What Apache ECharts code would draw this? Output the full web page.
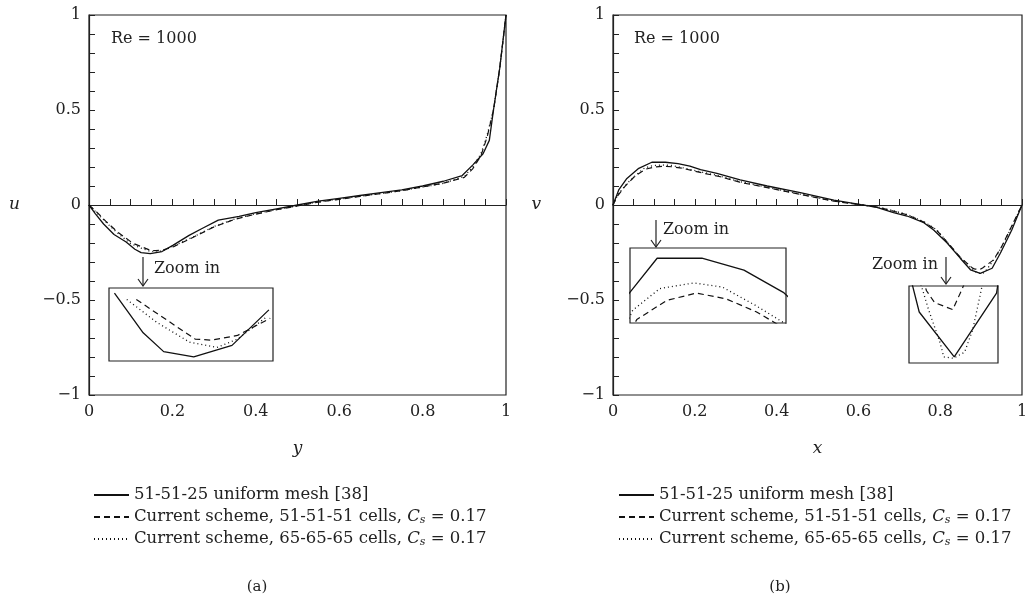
<!DOCTYPE html>
<html><head><meta charset="utf-8">
<script src="https://cdn.jsdelivr.net/npm/echarts@6/dist/echarts.min.js"></script>
<style>html,body{margin:0;padding:0;background:#fff}#c{width:1031px;height:599px}</style>
</head><body><div id="c"></div>
<script>
// ---------- Panel (a): u along y ----------
const aRefY  = [0,0.015,0.035,0.06,0.089,0.11,0.125,0.147,0.175,0.202,0.24,0.27,0.31,0.36,0.4,0.45,0.5,0.55,0.6,0.65,0.7,0.75,0.8,0.85,0.895,0.92,0.945,0.96,0.97,0.985,1];
const aRefU  = [0,-0.045,-0.1,-0.155,-0.195,-0.233,-0.251,-0.256,-0.245,-0.211,-0.16,-0.125,-0.08,-0.06,-0.04,-0.02,0.0,0.02,0.035,0.05,0.065,0.08,0.1,0.125,0.155,0.21,0.27,0.34,0.5,0.72,1.0];
const a51Y   = [0,0.02,0.04,0.07,0.105,0.148,0.16,0.179,0.203,0.25,0.3,0.35,0.4,0.45,0.5,0.55,0.6,0.65,0.7,0.75,0.8,0.85,0.9,0.92,0.94,0.955,0.97,0.985,1];
const a51U   = [0,-0.04,-0.085,-0.145,-0.201,-0.239,-0.240,-0.2355,-0.219,-0.17,-0.115,-0.075,-0.048,-0.025,-0.005,0.015,0.03,0.045,0.06,0.075,0.095,0.115,0.145,0.19,0.26,0.36,0.5,0.72,1.0];
const a65Y   = [0,0.02,0.045,0.07,0.098,0.12,0.144,0.164,0.179,0.2,0.25,0.3,0.35,0.4,0.45,0.5,0.55,0.6,0.65,0.7,0.75,0.8,0.85,0.9,0.92,0.94,0.955,0.97,0.985,1];
const a65U   = [0,-0.045,-0.1,-0.15,-0.201,-0.223,-0.242,-0.247,-0.239,-0.218,-0.168,-0.113,-0.073,-0.046,-0.024,-0.004,0.016,0.031,0.046,0.061,0.076,0.094,0.114,0.15,0.2,0.27,0.37,0.5,0.72,1];
const aInsetX = [0.085, 0.205];
const aInsetU = [-0.26, -0.19];

// ---------- Panel (b): v along x ----------
const bRefX  = [0,0.014,0.034,0.063,0.095,0.128,0.159,0.188,0.214,0.254,0.311,0.377,0.458,0.54,0.588,0.645,0.686,0.719,0.76,0.784,0.817,0.849,0.874,0.898,0.927,0.947,0.975,1];
const bRefV  = [0,0.079,0.14,0.193,0.225,0.225,0.218,0.205,0.186,0.167,0.132,0.1,0.065,0.026,0.009,-0.012,-0.04,-0.058,-0.093,-0.132,-0.2,-0.28,-0.341,-0.36,-0.333,-0.254,-0.132,0];
const b51X   = [0,0.01,0.03,0.055,0.08,0.102,0.124,0.146,0.168,0.18,0.22,0.26,0.31,0.38,0.46,0.54,0.6,0.65,0.69,0.72,0.76,0.79,0.817,0.849,0.879,0.8845,0.897,0.9036,0.93,0.95,0.975,1];
const b51V   = [0,0.045,0.1,0.155,0.189,0.2002,0.2046,0.2011,0.1936,0.188,0.168,0.15,0.12,0.09,0.055,0.02,0.003,-0.012,-0.035,-0.052,-0.09,-0.13,-0.195,-0.275,-0.332,-0.337,-0.340,-0.331,-0.29,-0.22,-0.11,0];
const b65X   = [0,0.012,0.035,0.06,0.077,0.097,0.122,0.143,0.168,0.185,0.22,0.26,0.31,0.38,0.46,0.54,0.6,0.65,0.69,0.72,0.76,0.79,0.817,0.849,0.877,0.8804,0.8883,0.8908,0.8975,0.9051,0.9107,0.9164,0.94,0.96,0.98,1];
const b65V   = [0,0.055,0.115,0.165,0.1945,0.2072,0.2105,0.2081,0.1971,0.1888,0.172,0.153,0.123,0.092,0.056,0.021,0.003,-0.011,-0.033,-0.05,-0.088,-0.128,-0.195,-0.277,-0.333,-0.340,-0.354,-0.360,-0.3606,-0.358,-0.3485,-0.332,-0.26,-0.18,-0.09,0];
const bInset1X = [0.075, 0.19];
const bInset1V = [0.187, 0.231];
const bInset2X = [0.867, 0.928];
const bInset2V = [-0.3626, -0.33];

const seriesNames = ['51-51-25 uniform mesh [38]', 'Current scheme, 51-51-51 cells', 'Current scheme, 65-65-65 cells'];
const legendRich = ['51-51-25 uniform mesh [38]',
  'Current scheme, 51-51-51 cells, {i|C}{s|s} = 0.17',
  'Current scheme, 65-65-65 cells, {i|C}{s|s} = 0.17'];
const yTickText = {'-1':'\u22121','-0.5':'\u22120.5','0':'0','0.5':'0.5','1':'1'};

const FONT = 'DejaVu Serif';
const zip = (a, b) => a.map((v, i) => [v, b[i]]);
const within = (pts, r) => pts.filter(p => p[0] >= r[0] - 1e-9 && p[0] <= r[1] + 1e-9);
const styles = [
  {type:'solid', width:1.3},
  {type:[6,4], width:1.2},
  {type:[1,3], width:1.3}
];

const chart = echarts.init(document.getElementById('c'), null, {renderer:'canvas'});

const mainGrids = [
  {left:89, top:15, width:417, height:380},
  {left:613, top:15, width:409, height:380}
];
const insetGrids = [
  {left:109, top:288, width:164, height:73},
  {left:630, top:248, width:156, height:75},
  {left:909, top:286, width:89, height:77}
];
const grid = mainGrids.concat(insetGrids).map(g => Object.assign({show:true, borderColor:'#222', borderWidth:1.2, backgroundColor:'rgba(0,0,0,0)', containLabel:false}, g));

function mainX(gi, name) {
  return {type:'value', gridIndex:gi, min:0, max:1, interval:0.2,
    name:name, nameLocation:'middle', nameGap:45,
    nameTextStyle:{fontFamily:FONT, fontStyle:'italic', fontSize:17, color:'#222'},
    axisLine:{show:true, lineStyle:{color:'#222', width:1.2}},
    axisTick:{show:true, inside:true, length:6, lineStyle:{color:'#222'}},
    minorTick:{show:true, splitNumber:4, length:6, lineStyle:{color:'#222'}},
    splitLine:{show:false},
    axisLabel:{fontFamily:FONT, fontSize:16, color:'#222', margin:9,
      formatter: v => (Math.round(v*10)/10).toString()}
  };
}
function mainY(gi, name, gap) {
  return {type:'value', gridIndex:gi, min:-1, max:1, interval:0.5,
    name:name, nameLocation:'middle', nameGap:gap, nameRotate:0,
    nameTextStyle:{fontFamily:FONT, fontStyle:'italic', fontSize:17, color:'#222'},
    axisLine:{show:true, lineStyle:{color:'#222', width:1.2}},
    axisTick:{show:true, inside:true, length:6, lineStyle:{color:'#222'}},
    minorTick:{show:true, splitNumber:5, length:6, lineStyle:{color:'#222'}},
    splitLine:{show:false},
    axisLabel:{fontFamily:FONT, fontSize:16, color:'#222', margin:8,
      formatter: v => yTickText[String(Math.round(v*10)/10)] || String(v)}
  };
}
function insetAxis(gi, r) {
  return {type:'value', gridIndex:gi, min:r[0], max:r[1], show:false, splitLine:{show:false}};
}

const xAxis = [mainX(0,'y'), mainX(1,'x'), insetAxis(2,aInsetX), insetAxis(3,bInset1X), insetAxis(4,bInset2X)];
const yAxis = [mainY(0,'u',69), mainY(1,'v',72), insetAxis(2,aInsetU), insetAxis(3,bInset1V), insetAxis(4,bInset2V)];

const aData = [zip(aRefY,aRefU), zip(a51Y,a51U), zip(a65Y,a65U)];
const bData = [zip(bRefX,bRefV), zip(b51X,b51V), zip(b65X,b65V)];

function line(name, data, xi, style) {
  return {type:'line', name:name, xAxisIndex:xi, yAxisIndex:xi, data:data,
    showSymbol:false, symbol:'none', smooth:false, clip:true, silent:true, animation:false,
    lineStyle:{color:'#111', width:style.width, type:style.type},
    itemStyle:{color:'#111'}};
}

const series = [];
for (let k = 0; k < 3; k++) {
  series.push(line(seriesNames[k], aData[k], 0, styles[k]));
  series.push(line(seriesNames[k], bData[k], 1, styles[k]));
  series.push(line('insetA'+k, within(aData[k], aInsetX), 2, styles[k]));
  series.push(line('insetB1'+k, bData[k], 3, styles[k]));
  series.push(line('insetB2'+k, bData[k], 4, styles[k]));
}

function legendAt(left) {
  return {show:true, orient:'vertical', left:left, top:481, itemWidth:35, itemHeight:12, itemGap:4,
    selectedMode:false, data:seriesNames,
    itemStyle:{opacity:0, color:'rgba(0,0,0,0)', borderColor:'rgba(0,0,0,0)', borderWidth:0},
    formatter: n => legendRich[seriesNames.indexOf(n)],
    textStyle:{fontFamily:FONT, fontSize:16.5, color:'#222', lineHeight:18,
      rich:{i:{fontFamily:FONT, fontStyle:'italic', fontSize:16.5, color:'#222', lineHeight:18},
            s:{fontFamily:FONT, fontStyle:'italic', fontSize:11, color:'#222', lineHeight:10, verticalAlign:'bottom'}}}
  };
}

function txt(x, y, s, align, size, style) {
  return {type:'text', x:x, y:y, silent:true,
    style:{text:s, x:0, y:0, fill:'#222', font:(style||'normal')+' '+(size||16)+'px "'+FONT+'"', textAlign:align||'left', textVerticalAlign:'middle'}};
}
function arrow(x, y1, y2) {
  return [
    {type:'line', silent:true, shape:{x1:x, y1:y1, x2:x, y2:y2}, style:{stroke:'#222', lineWidth:1.2}},
    {type:'polyline', silent:true, shape:{points:[[x-5,y2-7],[x,y2],[x+5,y2-7]]}, style:{stroke:'#222', lineWidth:1.2, fill:null}}
  ];
}

const graphic = [
  txt(111, 39, 'Re = 1000'),
  txt(634, 39, 'Re = 1000'),
  txt(154, 269, 'Zoom in'),
  txt(663, 230, 'Zoom in'),
  txt(938, 265, 'Zoom in', 'right'),
  txt(257, 587, '(a)', 'center', 15),
  txt(780, 587, '(b)', 'center', 15)
].concat(arrow(143, 257, 286), arrow(656, 220, 247), arrow(946, 257, 284));

chart.setOption({
  animation:false,
  backgroundColor:'#fff',
  grid:grid, xAxis:xAxis, yAxis:yAxis, series:series,
  legend:[legendAt(88), legendAt(613)],
  graphic:graphic
});
</script></body></html>
